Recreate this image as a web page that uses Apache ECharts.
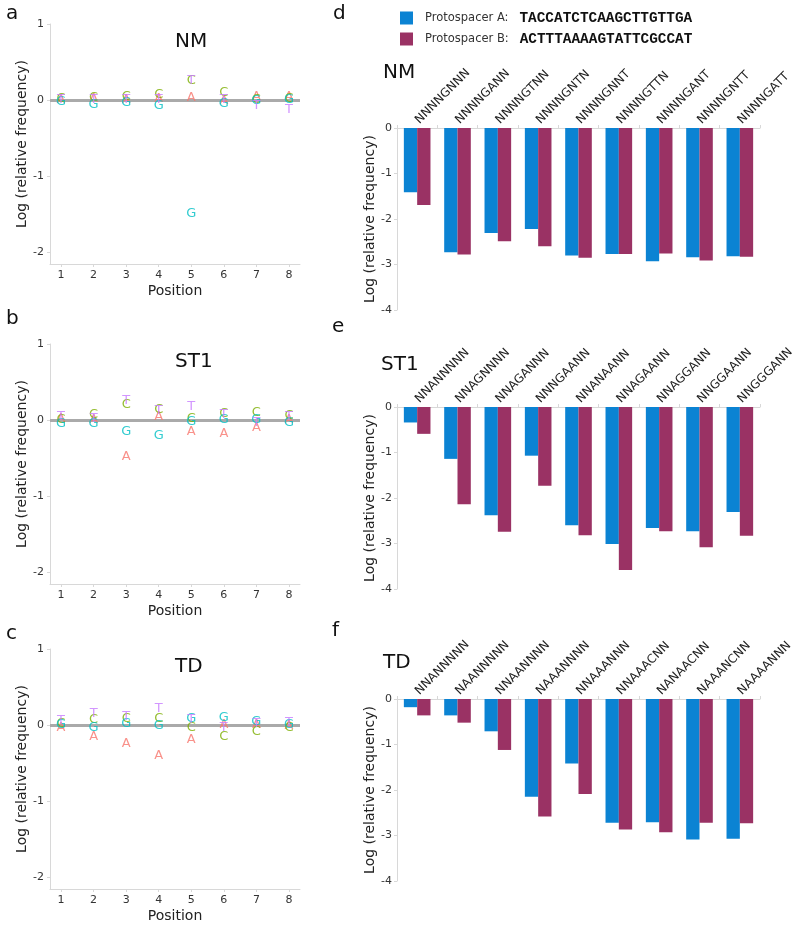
<!DOCTYPE html>
<html>
<head>
<meta charset="utf-8">
<script src="https://cdn.jsdelivr.net/npm/echarts@6/dist/echarts.min.js"></script>
<style>html,body{margin:0;padding:0;background:#fff}#c{width:800px;height:928px}</style>
</head>
<body>
<div id="c"></div>
<script>
// ---------- Data ----------
const positions = [1, 2, 3, 4, 5, 6, 7, 8];
const posTicks = [1, 2, 3, 4, 5, 6, 7, 8];
const scatterYTicks = [-2, -1, 0, 1];

const nmA = [0.01, 0.02, 0.00, 0.02, 0.03, -0.01, 0.04, 0.04];
const nmC = [0.02, 0.03, 0.04, 0.07, 0.25, 0.10, 0.00, 0.02];
const nmG = [-0.02, -0.06, -0.04, -0.08, -1.50, -0.05, -0.01, 0.01];
const nmT = [0.00, 0.00, 0.01, 0.01, 0.25, 0.00, -0.08, -0.13];

const st1A = [0.02, 0.00, -0.48, 0.05, -0.15, -0.18, -0.10, 0.00];
const st1C = [0.00, 0.07, 0.20, 0.13, 0.02, 0.08, 0.09, 0.06];
const st1G = [-0.05, -0.05, -0.16, -0.20, -0.02, 0.00, 0.00, -0.03];
const st1T = [0.05, 0.02, 0.25, 0.12, 0.17, 0.07, -0.03, 0.04];

const tdA = [-0.03, -0.15, -0.25, -0.40, -0.19, 0.00, 0.00, -0.01];
const tdC = [0.02, 0.07, 0.08, 0.08, -0.04, -0.16, -0.09, -0.04];
const tdG = [0.00, -0.04, 0.02, -0.01, 0.08, 0.09, 0.04, 0.00];
const tdT = [0.06, 0.15, 0.11, 0.21, 0.07, -0.04, 0.02, 0.03];

const nmCats = ['NNNNGNNN', 'NNNNGANN', 'NNNNGTNN', 'NNNNGNTN', 'NNNNGNNT', 'NNNNGTTN', 'NNNNGANT', 'NNNNGNTT', 'NNNNGATT'];
const nmProtoA = [-1.41, -2.73, -2.31, -2.22, -2.80, -2.77, -2.93, -2.84, -2.82];
const nmProtoB = [-1.69, -2.78, -2.49, -2.60, -2.85, -2.77, -2.76, -2.91, -2.83];

const st1Cats = ['NNANNNNN', 'NNAGNNNN', 'NNAGANNN', 'NNNGAANN', 'NNANAANN', 'NNAGAANN', 'NNAGGANN', 'NNGGAANN', 'NNGGGANN'];
const st1ProtoA = [-0.34, -1.14, -2.38, -1.07, -2.60, -3.01, -2.66, -2.73, -2.31];
const st1ProtoB = [-0.59, -2.14, -2.74, -1.73, -2.82, -3.58, -2.73, -3.08, -2.83];

const tdCats = ['NNANNNNN', 'NAANNNNN', 'NNAANNNN', 'NAAANNNN', 'NNAAANNN', 'NNAAACNN', 'NANAACNN', 'NAAANCNN', 'NAAAANNN'];
const tdProtoA = [-0.18, -0.36, -0.71, -2.15, -1.42, -2.72, -2.71, -3.09, -3.07];
const tdProtoB = [-0.36, -0.52, -1.12, -2.58, -2.09, -2.87, -2.93, -2.72, -2.73];

const seqA = 'TACCATCTCAAGCTTGTTGA';
const seqB = 'ACTTTAAAAGTATTCGCCAT';

// ---------- Styling ----------
const FONT = 'DejaVu Sans';
const letterColors = { A: '#F8766D', C: '#7CAE00', G: '#00BFC4', T: '#C77CFF' };
const blue = '#0B83D3';
const purple = '#9A3264';
const axisGrey = '#d8d8d8';

const scatterPanels = [
  { title: 'NM', top: 24, letters: { A: nmA, C: nmC, G: nmG, T: nmT } },
  { title: 'ST1', top: 344, letters: { A: st1A, C: st1C, G: st1G, T: st1T } },
  { title: 'TD', top: 649, letters: { A: tdA, C: tdC, G: tdG, T: tdT } }
];
const barPanels = [
  { title: 'NM', top: 128, cats: nmCats, a: nmProtoA, b: nmProtoB },
  { title: 'ST1', top: 407, cats: st1Cats, a: st1ProtoA, b: st1ProtoB },
  { title: 'TD', top: 699, cats: tdCats, a: tdProtoA, b: tdProtoB }
];

const grid = [], xAxis = [], yAxis = [], series = [], graphic = [];

scatterPanels.forEach((p, i) => {
  grid.push({ left: 50, top: p.top, width: 250, height: 240 });
  xAxis.push({
    gridIndex: i, type: 'value', min: 0.66, max: 8.34,
    name: 'Position', nameLocation: 'middle', nameGap: 20,
    nameTextStyle: { fontSize: 14, color: '#222', fontFamily: FONT },
    axisLine: { show: true, onZero: false, lineStyle: { color: axisGrey } },
    axisTick: { show: true, length: 3, customValues: posTicks, lineStyle: { color: axisGrey } },
    axisLabel: { customValues: posTicks, fontSize: 11, color: '#333', margin: 6, fontFamily: FONT },
    splitLine: { show: false }
  });
  yAxis.push({
    gridIndex: i, type: 'value', min: -2.16, max: 1,
    name: 'Log (relative frequency)', nameLocation: 'middle', nameGap: 15,
    nameTextStyle: { fontSize: 14, color: '#222', fontFamily: FONT },
    axisLine: { show: true, lineStyle: { color: axisGrey } },
    axisTick: { show: true, length: 3, customValues: scatterYTicks, lineStyle: { color: axisGrey } },
    axisLabel: { customValues: scatterYTicks, fontSize: 11, color: '#333', margin: 6, fontFamily: FONT },
    splitLine: { show: false }
  });
  Object.keys(p.letters).forEach((L, k) => {
    const s = {
      type: 'scatter', xAxisIndex: i, yAxisIndex: i, silent: true, z: 3,
      symbolSize: 1, itemStyle: { color: 'rgba(0,0,0,0)' },
      data: positions.map((x, j) => [x, p.letters[L][j]]),
      label: { show: true, position: 'inside', formatter: L, color: letterColors[L], fontSize: 13, fontFamily: FONT },
      emphasis: { disabled: true }
    };
    if (k === 0) {
      s.markLine = {
        silent: true, symbol: 'none', z: 1,
        label: { show: false },
        lineStyle: { color: '#aaaaaa', width: 3, type: 'solid' },
        data: [{ yAxis: 0 }]
      };
    }
    series.push(s);
  });
  graphic.push({
    type: 'text', left: 175, top: p.top + 8, style: { text: p.title, fontSize: 20, fill: '#111', fontFamily: FONT, textAlign: 'center', textVerticalAlign: 'middle' }
  });
});

barPanels.forEach((p, k) => {
  const i = k + 3;
  grid.push({ left: 397, top: p.top, width: 363, height: 182 });
  xAxis.push({
    gridIndex: i, type: 'category', position: 'top', data: p.cats,
    axisLine: { show: true, onZero: false, lineStyle: { color: axisGrey } },
    axisTick: { show: true, length: 3, lineStyle: { color: axisGrey } },
    axisLabel: { interval: 0, rotate: -45, fontSize: 12, color: '#222', margin: 6, fontFamily: FONT },
    splitLine: { show: false }
  });
  yAxis.push({
    gridIndex: i, type: 'value', min: -4, max: 0, interval: 1,
    name: 'Log (relative frequency)', nameLocation: 'middle', nameGap: 18,
    nameTextStyle: { fontSize: 14, color: '#222', fontFamily: FONT },
    axisLine: { show: true, lineStyle: { color: axisGrey } },
    axisTick: { show: true, length: 3, lineStyle: { color: axisGrey } },
    axisLabel: { fontSize: 11, color: '#333', margin: 5, fontFamily: FONT },
    splitLine: { show: false }
  });
  series.push({
    type: 'bar', name: 'Protospacer A', xAxisIndex: i, yAxisIndex: i, data: p.a,
    barWidth: '33%', barGap: '0%', itemStyle: { color: blue }, silent: true
  });
  series.push({
    type: 'bar', name: 'Protospacer B', xAxisIndex: i, yAxisIndex: i, data: p.b,
    barWidth: '33%', barGap: '0%', itemStyle: { color: purple }, silent: true
  });
});

// Panel titles for bar charts
[[383, 74, 'NM'], [381, 366, 'ST1'], [383, 664, 'TD']].forEach(([x, y, t]) => {
  graphic.push({ type: 'text', left: x, top: y - 11, style: { text: t, fontSize: 20, fill: '#111', fontFamily: FONT } });
});
// Panel letters
[[12, 17, 'a'], [12, 322, 'b'], [12, 637, 'c'], [339, 17, 'd'], [338, 330, 'e'], [338, 634, 'f']].forEach(([x, y, t]) => {
  graphic.push({ type: 'text', left: x - 6, top: y - 13, style: { text: t, fontSize: 20, fill: '#111', fontFamily: FONT } });
});

const seqs = { 'Protospacer A': seqA, 'Protospacer B': seqB };

const chart = echarts.init(document.getElementById('c'), null, { renderer: 'canvas' });
chart.setOption({
  animation: false,
  backgroundColor: '#ffffff',
  textStyle: { fontFamily: FONT },
  grid, xAxis, yAxis, series, graphic,
  legend: {
    orient: 'vertical', left: 400, top: 11, padding: 0, itemWidth: 13, itemHeight: 13, itemGap: 7,
    icon: 'rect', selectedMode: false,
    data: ['Protospacer A', 'Protospacer B'],
    formatter: name => `{a|${name}:}{b|${seqs[name]}}`,
    textStyle: {
      rich: {
        a: { fontSize: 11.5, color: '#333', fontFamily: FONT, padding: [0, 0, 0, 7] },
        b: { fontSize: 14.4, color: '#111', fontFamily: 'Liberation Mono', fontWeight: 'bold', padding: [0, 0, 0, 11] }
      }
    }
  }
});
</script>
</body>
</html>
